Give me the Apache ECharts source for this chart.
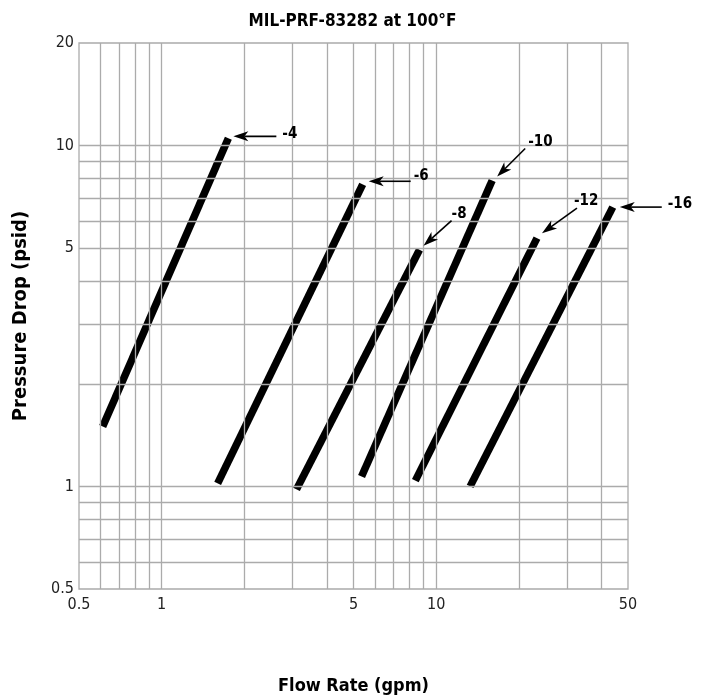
<!DOCTYPE html>
<html><head><meta charset="utf-8">
<script src="https://cdn.jsdelivr.net/npm/echarts@6/dist/echarts.min.js"></script>
<style>html,body{margin:0;padding:0;background:#fff}#c{width:705px;height:700px}</style>
</head><body><div id="c"></div>
<script>
const FONT = '"Liberation Sans Narrow","DejaVu Sans Condensed","Arial Narrow",sans-serif';

// ---- data ----
const titleText = 'MIL-PRF-83282 at 100°F';
const xName = 'Flow Rate (gpm)';
const yName = 'Pressure Drop (psid)';
const xTickLabels = [0.5, 1, 5, 10, 50];
const yTickLabels = [0.5, 1, 5, 10, 20];
const xGridValues = [0.6, 0.7, 0.8, 0.9, 1, 2, 3, 4, 5, 6, 7, 8, 9, 10, 20, 30, 40];
const yGridValues = [0.6, 0.7, 0.8, 0.9, 1, 2, 3, 4, 5, 6, 7, 8, 9, 10];
const seriesNames = ['-4', '-6', '-8', '-10', '-12', '-16'];
const flowStart = [0.61, 1.6, 3.1, 5.35, 8.4, 13.3];
const dropStart = [1.5, 1.02, 0.98, 1.07, 1.04, 1.0];
const flowEnd = [1.75, 5.4, 8.7, 16, 23.3, 44];
const dropEnd = [10.5, 7.7, 4.95, 7.9, 5.35, 6.6];

// ---- annotation styling (pixel offsets relative to each line's upper end) ----
const arrowGap = [[5, -2], [6, -3], [4, -4], [5, -4], [5, -5], [7, 0]];
const arrowVec = [[43, 0], [42, 0], [28, -25], [28, -28], [35, -25], [42, 0]];
const labelOff = [[6, -2], [3, -5], [0, -7], [3, -6], [-3, -7], [6, -3]];

const chart = echarts.init(document.getElementById('c'), null, {renderer: 'canvas'});

const gridMarks = xGridValues.map(v => ({xAxis: v})).concat(yGridValues.map(v => ({yAxis: v})));

const series = [{
  type: 'line', data: [], silent: true, z: 1,
  markLine: {
    silent: true, symbol: 'none', animation: false,
    label: {show: false},
    lineStyle: {color: '#ababab', width: 1.3, type: 'solid'},
    emphasis: {disabled: true},
    data: gridMarks
  }
}];
seriesNames.forEach((n, i) => {
  series.push({
    name: n, type: 'line', z: 3, symbol: 'none', silent: true,
    lineStyle: {color: '#000', width: 7.5, cap: 'butt'},
    data: [[flowStart[i], dropStart[i]], [flowEnd[i], dropEnd[i]]]
  });
});

chart.setOption({
  animation: false,
  backgroundColor: '#fff',
  title: {
    text: titleText, left: 'center', top: 8,
    textStyle: {fontFamily: FONT, fontSize: 17, fontWeight: 'bold', color: '#000'}
  },
  grid: {left: 79, right: 77, top: 43, bottom: 111, show: true, borderColor: '#ababab', borderWidth: 1.3},
  xAxis: {
    type: 'log', logBase: 10, min: 0.5, max: 50,
    name: xName, nameLocation: 'middle', nameGap: 88,
    nameTextStyle: {fontFamily: FONT, fontSize: 18, fontWeight: 'bold', color: '#000'},
    axisLine: {show: false}, axisTick: {show: false}, splitLine: {show: false},
    axisLabel: {customValues: xTickLabels, fontFamily: FONT, fontSize: 16, color: '#222', margin: 8,
      formatter: v => String(+v.toPrecision(3))}
  },
  yAxis: {
    type: 'log', logBase: 10, min: 0.5, max: 20,
    name: yName, nameLocation: 'middle', nameGap: 48,
    nameTextStyle: {fontFamily: FONT, fontSize: 20, fontWeight: 'bold', color: '#000'},
    axisLine: {show: false}, axisTick: {show: false}, splitLine: {show: false},
    axisLabel: {customValues: yTickLabels, fontFamily: FONT, fontSize: 16, color: '#222', margin: 5,
      formatter: v => String(+v.toPrecision(3))}
  },
  series: series
});

// arrows + labels, anchored to each series' upper end through the chart's scales
const g = [];
seriesNames.forEach((n, i) => {
  const p = chart.convertToPixel({seriesIndex: i + 1}, [flowEnd[i], dropEnd[i]]);
  const tip = [p[0] + arrowGap[i][0], p[1] + arrowGap[i][1]];
  const tail = [tip[0] + arrowVec[i][0], tip[1] + arrowVec[i][1]];
  const len = Math.hypot(arrowVec[i][0], arrowVec[i][1]);
  const ux = arrowVec[i][0] / len, uy = arrowVec[i][1] / len;
  const px = -uy, py = ux;
  const L = 15, W = 5, N = 11;
  g.push({
    type: 'line', silent: true, z: 10,
    shape: {x1: tip[0] + ux * N, y1: tip[1] + uy * N, x2: tail[0], y2: tail[1]},
    style: {stroke: '#000', lineWidth: 1.6}
  });
  g.push({
    type: 'polygon', silent: true, z: 10,
    shape: {points: [
      tip,
      [tip[0] + ux * L + px * W, tip[1] + uy * L + py * W],
      [tip[0] + ux * N, tip[1] + uy * N],
      [tip[0] + ux * L - px * W, tip[1] + uy * L - py * W]
    ]},
    style: {fill: '#000'}
  });
  g.push({
    type: 'text', silent: true, z: 10,
    x: tail[0] + labelOff[i][0], y: tail[1] + labelOff[i][1],
    style: {text: n, fontFamily: FONT, fontSize: 15, fontWeight: 'bold', fill: '#000',
      align: 'left', verticalAlign: 'middle'}
  });
});
chart.setOption({graphic: {elements: g}});
</script></body></html>
